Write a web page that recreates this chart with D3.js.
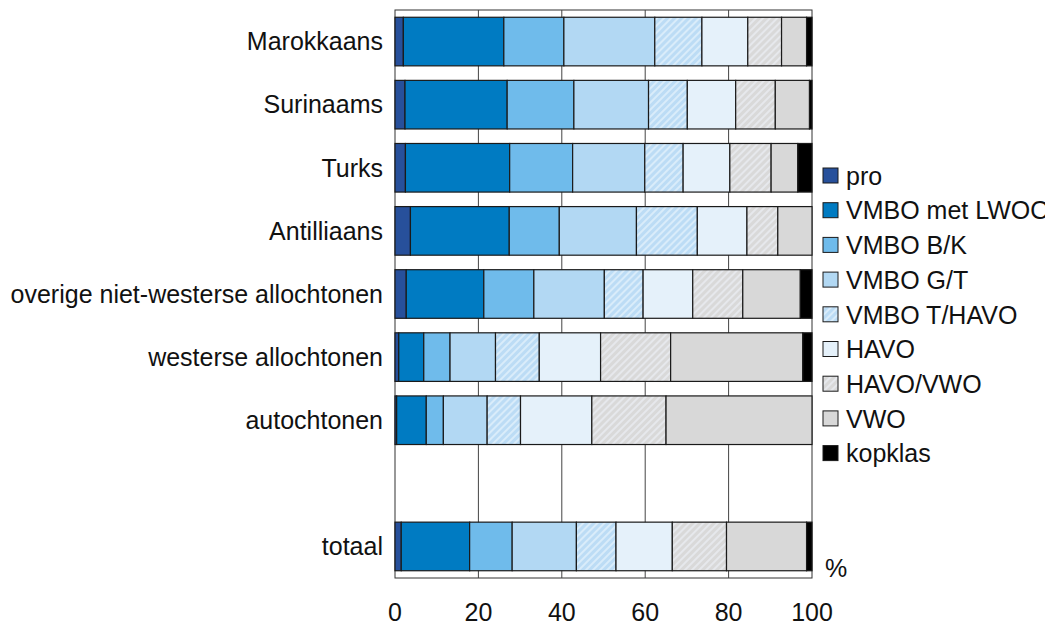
<!DOCTYPE html>
<html>
<head>
<meta charset="utf-8">
<script src="https://cdn.jsdelivr.net/npm/d3@7"></script>
<style>
  body { margin: 0; background: #fff; overflow: hidden; }
  text { font-family: "Liberation Sans", Arial, sans-serif; fill: #111; }
</style>
</head>
<body>
<script>
// categories (top to bottom), "" is the empty slot
var categories = ["Marokkaans", "Surinaams", "Turks", "Antilliaans",
  "overige niet-westerse allochtonen", "westerse allochtonen", "autochtonen", "", "totaal"];

var series = ["pro", "VMBO met LWOO", "VMBO B/K", "VMBO G/T", "VMBO T/HAVO",
  "HAVO", "HAVO/VWO", "VWO", "kopklas"];

// percentages per category, in series order
var marokkaans = [2.0, 24.1, 14.4, 21.8, 11.3, 11.0, 8.1, 6.0, 1.3];
var surinaams  = [2.4, 24.5, 16.0, 17.9, 9.3, 11.6, 9.5, 8.2, 0.6];
var turks      = [2.5, 25.0, 15.1, 17.3, 9.2, 11.2, 9.9, 6.4, 3.4];
var antilliaans = [3.7, 23.7, 12.0, 18.5, 14.6, 11.9, 7.4, 8.2, 0.0];
var overig     = [2.7, 18.6, 12.0, 16.9, 9.3, 11.9, 12.0, 13.8, 2.8];
var westers    = [0.9, 6.0, 6.3, 10.9, 10.5, 14.7, 16.8, 31.7, 2.2];
var autochtoon = [0.4, 7.1, 4.1, 10.5, 8.0, 17.1, 17.8, 35.0, 0.0];
var totaal     = [1.5, 16.4, 10.2, 15.4, 9.5, 13.5, 13.0, 19.2, 1.3];

var xTicks = [0, 20, 40, 60, 80, 100];

var rows = [marokkaans, surinaams, turks, antilliaans, overig, westers, autochtoon, null, totaal];

var colors = ["#27509b", "#007bc2", "#6fbbeb", "#b2d8f3", "#c3e1f6",
  "#e5f1fa", "#dcdcdc", "#d8d8d8", "#000000"];

var margin = {top: 10, left: 395, right: 233, bottom: 47},
    width = 1045 - margin.left - margin.right,
    height = 625 - margin.top - margin.bottom;

var svg = d3.select("body").append("svg")
    .attr("width", 1045)
    .attr("height", 625);

// hatch patterns
var defs = svg.append("defs");
function hatch(id, base, stripe) {
  var p = defs.append("pattern")
      .attr("id", id)
      .attr("patternUnits", "userSpaceOnUse")
      .attr("width", 5).attr("height", 5)
      .attr("patternTransform", "rotate(45)");
  p.append("rect").attr("width", 5).attr("height", 5).attr("fill", base);
  p.append("rect").attr("width", 2).attr("height", 5).attr("fill", stripe);
}
hatch("hatchBlue", "#bcdcf5", "#d9ecfa");
hatch("hatchGrey", "#d9d9d9", "#e6e8ec");

function fillFor(i) {
  if (i === 4) return "url(#hatchBlue)";
  if (i === 6) return "url(#hatchGrey)";
  return colors[i];
}

var g = svg.append("g")
    .attr("transform", "translate(" + margin.left + "," + margin.top + ")");

var x = d3.scaleLinear().domain([0, 100]).range([0, width]);
var y = d3.scaleBand().domain(d3.range(categories.length)).range([0, height])
    .paddingInner(0.23).paddingOuter(0.115);

// frame
g.append("rect")
    .attr("x", 0).attr("y", 0)
    .attr("width", width).attr("height", height)
    .attr("fill", "#fff")
    .attr("stroke", "#333").attr("stroke-width", 1);

// grid lines
g.selectAll(".grid")
  .data(xTicks.slice(1, -1))
  .enter().append("line")
    .attr("x1", function(d) { return x(d); })
    .attr("x2", function(d) { return x(d); })
    .attr("y1", 0).attr("y2", height)
    .attr("stroke", "#444").attr("stroke-width", 1);

// stacked bars
rows.forEach(function(vals, r) {
  if (!vals) return;
  var acc = 0;
  var segs = vals.map(function(v, i) {
    var s = {x0: acc, x1: acc + v, i: i};
    acc += v;
    return s;
  }).filter(function(s) { return s.x1 - s.x0 > 0; });
  g.selectAll(".bar" + r)
    .data(segs)
    .enter().append("rect")
      .attr("x", function(d) { return x(d.x0); })
      .attr("width", function(d) { return x(d.x1) - x(d.x0); })
      .attr("y", y(r))
      .attr("height", y.bandwidth())
      .attr("fill", function(d) { return fillFor(d.i); })
      .attr("stroke", "#1a1a1a").attr("stroke-width", 1.2);
});

// category labels
g.selectAll(".cat")
  .data(categories)
  .enter().append("text")
    .attr("x", -12)
    .attr("y", function(d, i) { return y(i) + y.bandwidth() / 2; })
    .attr("dy", "0.35em")
    .attr("text-anchor", "end")
    .style("font-size", "25px")
    .text(function(d) { return d; });

// x tick labels
g.selectAll(".xt")
  .data(xTicks)
  .enter().append("text")
    .attr("x", function(d) { return x(d); })
    .attr("y", height + 43)
    .attr("text-anchor", "middle")
    .style("font-size", "25px")
    .text(function(d) { return d; });

// unit
g.append("text")
    .attr("x", width + 13)
    .attr("y", height - 1)
    .style("font-size", "25px")
    .text("%");

// legend
var legend = svg.append("g")
    .attr("transform", "translate(823,168)");
var lg = legend.selectAll(".lg")
  .data(series)
  .enter().append("g")
    .attr("transform", function(d, i) { return "translate(0," + (i * 34.7) + ")"; });
lg.append("rect")
    .attr("width", 15).attr("height", 15)
    .attr("fill", function(d, i) { return fillFor(i); })
    .attr("stroke", "#1a1a1a").attr("stroke-width", 1);
lg.append("text")
    .attr("x", 23)
    .attr("y", 8)
    .attr("dy", "0.35em")
    .style("font-size", "25px")
    .text(function(d) { return d; });
</script>
</body>
</html>
